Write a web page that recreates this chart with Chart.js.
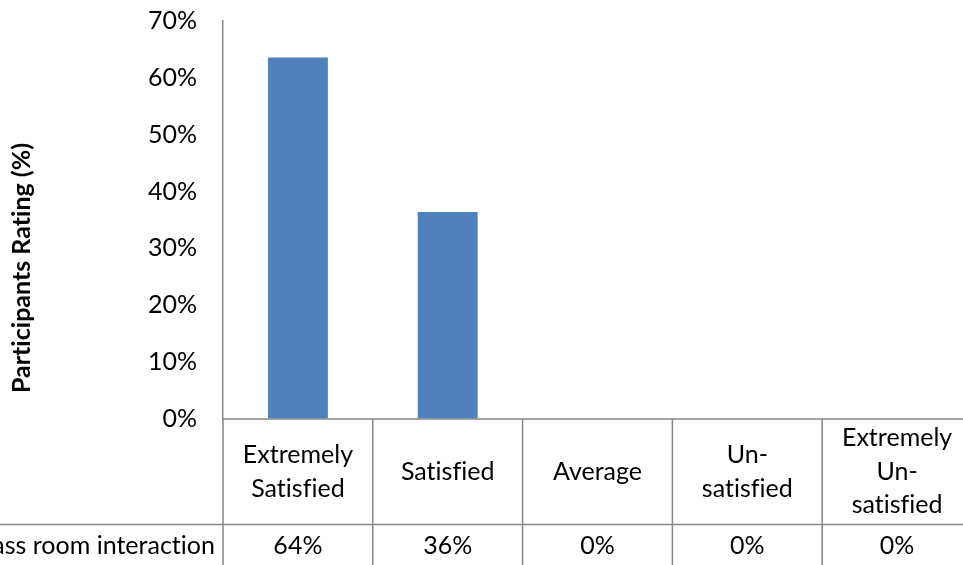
<!DOCTYPE html>
<html>
<head>
<meta charset="utf-8">
<script src="https://cdn.jsdelivr.net/npm/chart.js@4/dist/chart.umd.min.js"></script>
<style>
    html, body { margin: 0; padding: 0; overflow: hidden; background: #fff; }
    #wrap { width: 972px; height: 565px; }
</style>
</head>
<body>
<div id="wrap"><canvas id="chart" width="972" height="565"></canvas></div>
<script>
/* ================= DATA ================= */
const categories = [
    ["Extremely", "Satisfied"],
    ["Satisfied"],
    ["Average"],
    ["Un-", "satisfied"],
    ["Extremely", "Un-", "satisfied"]
];
const seriesName = "Class room interaction";
const values = [63.6, 36.4, 0, 0, 0];
const yMin = 0;
const yMax = 70;
const yStep = 10;
const yTitle = "Participants Rating (%)";

/* ================= STYLE ================= */
const FONT = "Lato";
const FONT_SIZE = 25;
const LINE = "#878787";
const BAR = "#4F81BD";

/* ================= TABLE PLUGIN ================= */
const dataTable = {
    id: "dataTable",
    afterDraw(chart) {
        const { ctx, chartArea } = chart;
        const x = chart.scales.x;
        const top = chartArea.bottom;
        const mid = 524.5;
        const bottom = chart.height + 10;
        const colW = (chartArea.right - chartArea.left) / categories.length;

        ctx.save();
        ctx.strokeStyle = LINE;
        ctx.lineWidth = 1.5;

        // horizontal rules
        ctx.beginPath();
        ctx.moveTo(chartArea.left, top);
        ctx.lineTo(chart.width, top);
        ctx.moveTo(0, mid);
        ctx.lineTo(chart.width, mid);
        // column separators
        for (let i = 0; i < categories.length; i++) {
            const bx = chartArea.left + i * colW;
            ctx.moveTo(bx, top);
            ctx.lineTo(bx, bottom);
        }
        ctx.stroke();

        // header labels (tiny letter spacing keeps "fi" unligated)
        ctx.fillStyle = "#000";
        ctx.font = FONT_SIZE + "px " + FONT;
        ctx.letterSpacing = "0.01px";
        ctx.textAlign = "center";
        ctx.textBaseline = "middle";
        const lh = 33.5;
        categories.forEach((lines, i) => {
            const cx = x.getPixelForValue(i);
            const cy = (top + mid) / 2 - (lines.length - 1) * lh / 2;
            lines.forEach((t, j) => ctx.fillText(t, cx, cy + j * lh));
        });

        // value row
        const vy = 546;
        values.forEach((v, i) => {
            ctx.fillText(Math.round(v) + "%", x.getPixelForValue(i), vy);
        });
        ctx.textAlign = "right";
        ctx.fillText(seriesName, chartArea.left - 8, vy);

        // y axis title
        ctx.translate(22, 268);
        ctx.rotate(-Math.PI / 2);
        ctx.textAlign = "center";
        ctx.font = "bold 25px " + FONT;
        ctx.fillText(yTitle, 0, 0);
        ctx.restore();
    }
};

/* ================= CHART ================= */
new Chart(document.getElementById("chart"), {
    type: "bar",
    data: {
        labels: categories,
        datasets: [{
            label: seriesName,
            data: values,
            backgroundColor: BAR,
            barPercentage: 0.4,
            categoryPercentage: 1
        }]
    },
    options: {
        responsive: false,
        animation: false,
        layout: { padding: { left: 0, top: 21, right: 0, bottom: 146 } },
        plugins: {
            legend: { display: false },
            tooltip: { enabled: false }
        },
        scales: {
            x: { display: false },
            y: {
                min: yMin,
                max: yMax,
                ticks: {
                    stepSize: yStep,
                    padding: 26,
                    color: "#000",
                    font: { family: FONT, size: FONT_SIZE },
                    callback: v => v + "%"
                },
                grid: { display: true, drawOnChartArea: false, drawTicks: false },
                border: { display: true, color: LINE, width: 1.5 },
                afterFit(scale) {
                    scale.width = 223;
                    scale.paddingTop = 0;
                    scale.paddingBottom = 0;
                }
            }
        }
    },
    plugins: [dataTable]
});
</script>
</body>
</html>
